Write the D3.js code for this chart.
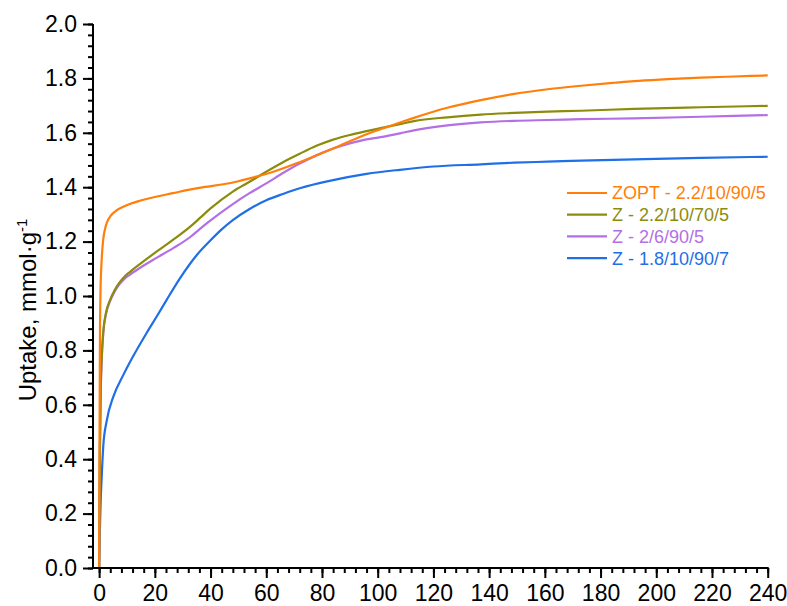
<!DOCTYPE html>
<html><head><meta charset="utf-8">
<script src="https://cdn.jsdelivr.net/npm/d3@7"></script>
<style>body{margin:0;background:#fff}svg{display:block;font-family:Arial,"Liberation Sans",sans-serif}</style>
</head><body><svg id="c" width="787" height="606"></svg>
<script>
const seriesNames = ["ZOPT - 2.2/10/90/5","Z - 2.2/10/70/5","Z - 2/6/90/5","Z - 1.8/10/90/7"];
const seriesColors = ["#ff7f0a","#8c8c0c","#b46fe4","#1f6fe6"];
const xTicks = [0,20,40,60,80,100,120,140,160,180,200,220,240];
const yTicks = [0.0,0.2,0.4,0.6,0.8,1.0,1.2,1.4,1.6,1.8,2.0];
// [time, uptake]
const zopt = [[0,0],[0.15,0.5],[0.3,0.85],[0.5,1.02],[0.9,1.13],[1.5,1.21],[2.2,1.25],[3,1.275],[4,1.293],[5.1,1.305],[6.5,1.317],[8.7,1.328],[11,1.338],[14.6,1.35],[20,1.364],[26.5,1.378],[32,1.39],[38,1.401],[44,1.41],[50,1.422],[55,1.435],[62,1.455],[72,1.492],[84,1.542],[96,1.595],[101,1.613],[108,1.638],[113,1.655],[125,1.692],[137,1.72],[149,1.743],[161,1.76],[173,1.773],[185,1.784],[192,1.790],[204,1.797],[216,1.803],[228,1.807],[240,1.811]];
const z70 = [[0,0],[0.3,0.45],[0.6,0.67],[0.9,0.765],[1.5,0.87],[2.5,0.94],[3.9,0.985],[5.5,1.02],[7.2,1.048],[9,1.07],[11,1.088],[14.6,1.117],[20.6,1.163],[26.6,1.207],[32.6,1.254],[36.2,1.287],[40,1.322],[48,1.384],[54,1.42],[60,1.457],[66,1.492],[72,1.523],[78,1.552],[84,1.575],[90,1.592],[96,1.606],[101,1.617],[108,1.632],[113,1.643],[125,1.657],[137,1.667],[149,1.673],[161,1.678],[173,1.681],[192,1.688],[216,1.694],[240,1.699]];
const z6 = [[0,0],[0.3,0.45],[0.6,0.66],[0.9,0.76],[1.5,0.865],[2.5,0.935],[3.9,0.98],[5.5,1.015],[7.2,1.042],[9,1.062],[11,1.078],[14.6,1.103],[20.6,1.14],[26.6,1.176],[32.6,1.216],[36.2,1.247],[40,1.278],[48,1.338],[54,1.378],[60,1.414],[66,1.452],[72,1.487],[78,1.517],[84,1.542],[90,1.561],[96,1.576],[101,1.584],[108,1.598],[113,1.609],[125,1.627],[137,1.638],[149,1.644],[161,1.647],[173,1.650],[192,1.653],[216,1.659],[240,1.665]];
const z18 = [[0,0],[0.3,0.15],[0.6,0.26],[0.9,0.33],[1.5,0.45],[2.7,0.54],[5.1,0.63],[8.7,0.71],[12.3,0.78],[17.1,0.865],[21,0.93],[24.2,0.985],[29,1.065],[35,1.15],[40,1.205],[44,1.245],[48,1.279],[54,1.32],[60,1.352],[66,1.375],[72,1.396],[84,1.426],[96,1.449],[108,1.464],[120,1.476],[137,1.484],[149,1.49],[161,1.494],[173,1.498],[192,1.502],[216,1.508],[240,1.512]];
const seriesData = [zopt, z70, z6, z18];

const svg = d3.select("#c");
const x = d3.scaleLinear().domain([-2.2,240]).range([93,767.7]);
const y = d3.scaleLinear().domain([0,2]).range([568,24]);

const line = d3.line().x(d=>x(d[0])).y(d=>y(d[1])).curve(d3.curveMonotoneX);
const g = svg.append("g");
[3,2,1,0].forEach(i=>{
  g.append("path").datum(seriesData[i]).attr("d",line)
    .attr("fill","none").attr("stroke",seriesColors[i]).attr("stroke-width",2.2)
    .attr("stroke-linejoin","round");
});

const yMinor = d3.range(0,2.0001,0.04);
const xMinor = d3.range(0,240.001,4);
const ax = svg.append("g").attr("transform","translate(0,568)");
ax.call(d3.axisBottom(x).tickValues(xMinor).tickSize(5).tickFormat(""));
ax.select(".domain").remove();
const axM = svg.append("g").attr("transform","translate(0,568)");
axM.call(d3.axisBottom(x).tickValues(xTicks).tickSize(10).tickPadding(7).tickFormat(d3.format("d")));
axM.select(".domain").remove();
const ay = svg.append("g").attr("transform","translate(93,0)");
ay.call(d3.axisLeft(y).tickValues(yMinor).tickSize(5).tickFormat(""));
ay.select(".domain").remove();
const ayM = svg.append("g").attr("transform","translate(93,0)");
ayM.call(d3.axisLeft(y).tickValues(yTicks).tickSize(10).tickPadding(6).tickFormat(d3.format(".1f")));
ayM.select(".domain").remove();
svg.selectAll(".tick line").attr("stroke","#000").attr("stroke-width",2);
svg.selectAll(".tick text").attr("fill","#000").style("font-size","23px").style("font-family","Arial,'Liberation Sans',sans-serif");
svg.append("line").attr("x1",x(-2.2)).attr("x2",x(240)+1).attr("y1",568).attr("y2",568).attr("stroke","#000").attr("stroke-width",2);
svg.append("line").attr("x1",93).attr("x2",93).attr("y1",y(2)).attr("y2",569).attr("stroke","#000").attr("stroke-width",2);

const yl = svg.append("text").attr("transform","translate(36,310) rotate(-90)")
  .attr("text-anchor","middle").style("font-size","24px").attr("fill","#000");
yl.append("tspan").text("Uptake, mmol\u00b7g");
yl.append("tspan").attr("dy",-9).style("font-size","15px").text("-1");

const lg = svg.append("g");
seriesNames.forEach((n,i)=>{
  const yy = 193 + i*21.7;
  lg.append("line").attr("x1",567).attr("x2",607).attr("y1",yy).attr("y2",yy).attr("stroke",seriesColors[i]).attr("stroke-width",2.2);
  lg.append("text").attr("x",612).attr("y",yy).attr("dy","0.36em").style("font-size","18px").attr("fill",seriesColors[i]).text(n);
});
</script></body></html>
